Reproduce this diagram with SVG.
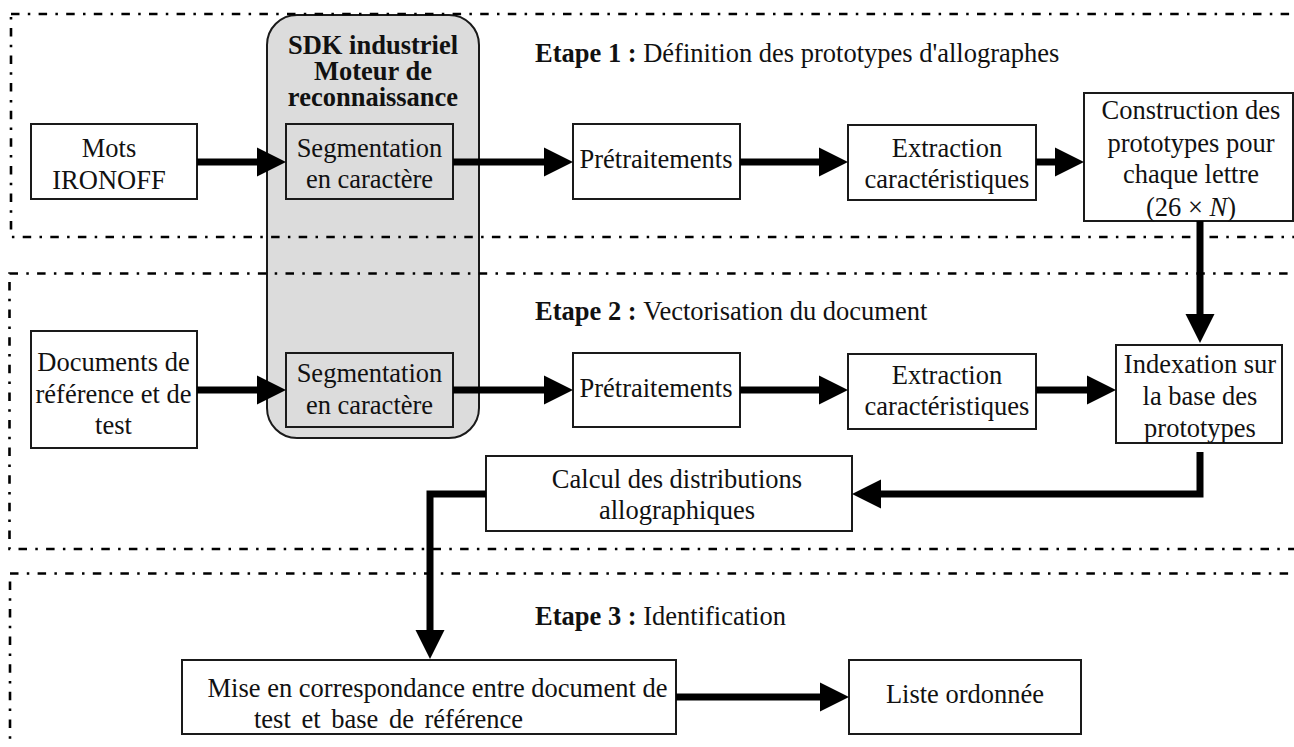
<svg xmlns="http://www.w3.org/2000/svg" width="1294" height="747" viewBox="0 0 1294 747">
<style>
text{font-family:"Liberation Serif","Times New Roman",serif;font-size:26.5px;fill:#111;}
.c{text-anchor:middle;}
.b{font-weight:bold;}
.box{fill:#fff;stroke:#1a1a1a;stroke-width:2;}
.gray{fill:#dcdcdc;stroke:#1a1a1a;stroke-width:2;}
.frame{fill:none;stroke:#000;stroke-width:2.6;stroke-dasharray:8.5 8.3 2.5 8.3;}
.conn{fill:none;stroke:#000;stroke-width:7;stroke-linejoin:miter;stroke-linecap:butt;marker-end:url(#ah);}
</style>
<defs>
<marker id="ah" markerUnits="userSpaceOnUse" markerWidth="30" markerHeight="30" viewBox="0 -15 30 30" refX="0" refY="0" orient="auto" overflow="visible">
<path d="M0,-14.5 L29,0 L0,14.5 Z" fill="#000"/>
</marker>
</defs>
<rect width="1294" height="747" fill="#fff"/>

<g id="sdk">
<rect class="gray" x="267" y="15" width="212" height="423" rx="30" ry="30"/>
<text class="c b" x="373" y="54">SDK industriel</text>
<text class="c b" x="373" y="80">Moteur de</text>
<text class="c b" x="373" y="106">reconnaissance</text>
</g>

<g id="frames">
<rect class="frame" x="11" y="14" width="1320" height="223"/>
<rect class="frame" x="9.5" y="273.5" width="1320" height="275.5"/>
<rect class="frame" x="10" y="573.5" width="1320" height="220"/>
</g>

<g id="etape1"><text x="535" y="62"><tspan class="b">Etape 1 : </tspan>Définition des prototypes d'allographes</text></g>
<g id="etape2"><text x="535" y="320"><tspan class="b">Etape 2 : </tspan>Vectorisation du document</text></g>
<g id="etape3"><text x="535" y="625"><tspan class="b">Etape 3 : </tspan>Identification</text></g>

<g id="mots">
<rect class="box" x="31" y="124" width="166" height="75"/>
<text class="c" x="109" y="157.3">Mots</text>
<text class="c" x="109" y="189.3">IRONOFF</text>
</g>
<g id="seg1">
<rect class="gray" x="286" y="124" width="167" height="75"/>
<text class="c" x="369.5" y="156.7">Segmentation</text>
<text class="c" x="369.5" y="188.3">en caractère</text>
</g>
<g id="pre1">
<rect class="box" x="573" y="124" width="167" height="75"/>
<text class="c" x="656" y="168.3">Prétraitements</text>
</g>
<g id="ext1">
<rect class="box" x="848" y="125" width="188" height="75"/>
<text class="c" x="947" y="156.7">Extraction</text>
<text class="c" x="947" y="188">caractéristiques</text>
</g>
<g id="cons">
<rect class="box" x="1084" y="93" width="209" height="128"/>
<text class="c" x="1191" y="119.3">Construction des</text>
<text class="c" x="1191" y="151.7">prototypes pour</text>
<text class="c" x="1191" y="183.3">chaque lettre</text>
<text class="c" x="1191" y="216">(26 × <tspan font-style="italic">N</tspan>)</text>
</g>

<g id="docs">
<rect class="box" x="31" y="331" width="166" height="117"/>
<text class="c" x="113.5" y="370.7">Documents de</text>
<text class="c" x="113.5" y="402.7">référence et de</text>
<text class="c" x="113.5" y="434.3">test</text>
</g>
<g id="seg2">
<rect class="gray" x="286" y="353" width="167" height="74"/>
<text class="c" x="369.5" y="382.3">Segmentation</text>
<text class="c" x="369.5" y="414">en caractère</text>
</g>
<g id="pre2">
<rect class="box" x="573" y="353" width="167" height="74"/>
<text class="c" x="656" y="396.7">Prétraitements</text>
</g>
<g id="ext2">
<rect class="box" x="848" y="354" width="188" height="75"/>
<text class="c" x="947" y="384.3">Extraction</text>
<text class="c" x="947" y="415">caractéristiques</text>
</g>
<g id="index">
<rect class="box" x="1116" y="345" width="166" height="98"/>
<text class="c" x="1200" y="372.7">Indexation sur</text>
<text class="c" x="1200" y="405">la base des</text>
<text class="c" x="1200" y="436.7">prototypes</text>
</g>
<g id="calcul">
<rect class="box" x="486" y="456" width="366" height="75"/>
<text class="c" x="677" y="488.3">Calcul des distributions</text>
<text class="c" x="677" y="519.3">allographiques</text>
</g>
<g id="mise">
<rect class="box" x="182" y="660" width="494" height="74"/>
<text class="c" x="437.5" y="697.3">Mise en correspondance entre document de</text>
<text x="254" y="728.3" word-spacing="4">test et base de référence</text>
</g>
<g id="liste">
<rect class="box" x="849" y="660" width="232" height="74"/>
<text class="c" x="965" y="703.3">Liste ordonnée</text>
</g>

<g id="connectors">
<path class="conn" d="M197,162 H257"/>
<path class="conn" d="M453,162 H544"/>
<path class="conn" d="M740,162 H819"/>
<path class="conn" d="M1036,162 H1055"/>
<path class="conn" d="M1200,221 V314"/>
<path class="conn" d="M197,390 H257"/>
<path class="conn" d="M453,390 H544"/>
<path class="conn" d="M740,390 H819"/>
<path class="conn" d="M1036,390 H1087"/>
<path class="conn" d="M1200,452 V494 H881"/>
<path class="conn" d="M486,494 H430 V630"/>
<path class="conn" d="M676,697 H820"/>
</g>
</svg>
